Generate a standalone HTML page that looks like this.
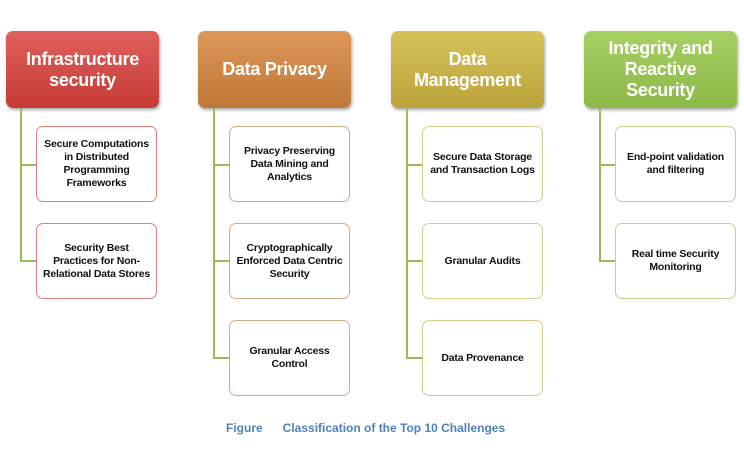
<!DOCTYPE html>
<html><head><meta charset="utf-8"><style>
body{margin:0;width:744px;height:458px;background:#fff;position:relative;overflow:hidden;font-family:"Liberation Sans",sans-serif;}
.h{position:absolute;top:31px;width:153px;height:77px;border-radius:7px;color:#fff;font-weight:bold;font-size:18px;line-height:21px;display:flex;align-items:center;justify-content:center;text-align:center;box-shadow:1px 2px 3px rgba(0,0,0,.35);letter-spacing:-0.3px}
.c{position:absolute;width:119px;height:74px;border:1.5px solid;border-radius:7px;background:#fff;font-weight:bold;font-size:10.5px;line-height:13px;display:flex;align-items:center;justify-content:center;text-align:center;color:#111;letter-spacing:-0.2px}
.v{position:absolute;width:2px;background:#9bbb59}
.l{position:absolute;height:2px;background:#9bbb59}
</style></head><body>
<div class="h" style="left:6px;background:linear-gradient(#e0605c,#c63b37)">Infrastructure<br>security</div>
<div class="h" style="left:198px;background:linear-gradient(#dd9758,#c07838)">Data Privacy</div>
<div class="h" style="left:391px;background:linear-gradient(#d7c25a,#bba33a)">Data<br>Management</div>
<div class="h" style="left:584px;background:linear-gradient(#a7d063,#8cb948)">Integrity and<br>Reactive<br>Security</div>

<div class="v" style="left:20px;top:108px;height:154px"></div>
<div class="l" style="left:20px;top:164px;width:16px"></div>
<div class="l" style="left:20px;top:260px;width:16px"></div>
<div class="v" style="left:213px;top:108px;height:250px"></div>
<div class="l" style="left:213px;top:164px;width:16px"></div>
<div class="l" style="left:213px;top:260px;width:16px"></div>
<div class="l" style="left:213px;top:357px;width:16px"></div>
<div class="v" style="left:406px;top:108px;height:250px"></div>
<div class="l" style="left:406px;top:164px;width:16px"></div>
<div class="l" style="left:406px;top:260px;width:16px"></div>
<div class="l" style="left:406px;top:357px;width:16px"></div>
<div class="v" style="left:599px;top:108px;height:154px"></div>
<div class="l" style="left:599px;top:164px;width:16px"></div>
<div class="l" style="left:599px;top:260px;width:16px"></div>

<div class="c" style="left:36px;top:126px;border-color:#d9827f">Secure Computations<br>in Distributed<br>Programming<br>Frameworks</div>
<div class="c" style="left:36px;top:223px;border-color:#d9827f">Security Best<br>Practices for Non-<br>Relational Data Stores</div>
<div class="c" style="left:229px;top:126px;border-color:#d7aa84">Privacy Preserving<br>Data Mining and<br>Analytics</div>
<div class="c" style="left:229px;top:223px;border-color:#d7aa84">Cryptographically<br>Enforced Data Centric<br>Security</div>
<div class="c" style="left:229px;top:320px;border-color:#d7aa84">Granular Access<br>Control</div>
<div class="c" style="left:422px;top:126px;border-color:#d7cc8a">Secure Data Storage<br>and Transaction Logs</div>
<div class="c" style="left:422px;top:223px;border-color:#d7cc8a">Granular Audits</div>
<div class="c" style="left:422px;top:320px;border-color:#d7cc8a">Data Provenance</div>
<div class="c" style="left:615px;top:126px;border-color:#bcd690">End-point validation<br>and filtering</div>
<div class="c" style="left:615px;top:223px;border-color:#bcd690">Real time Security<br>Monitoring</div>

<div style="position:absolute;left:226px;top:421px;font-size:12px;font-weight:bold;color:#4f81bd;white-space:nowrap">Figure&nbsp;&nbsp;&nbsp;&nbsp;&nbsp;&nbsp;Classification of the Top 10 Challenges</div>
</body></html>
